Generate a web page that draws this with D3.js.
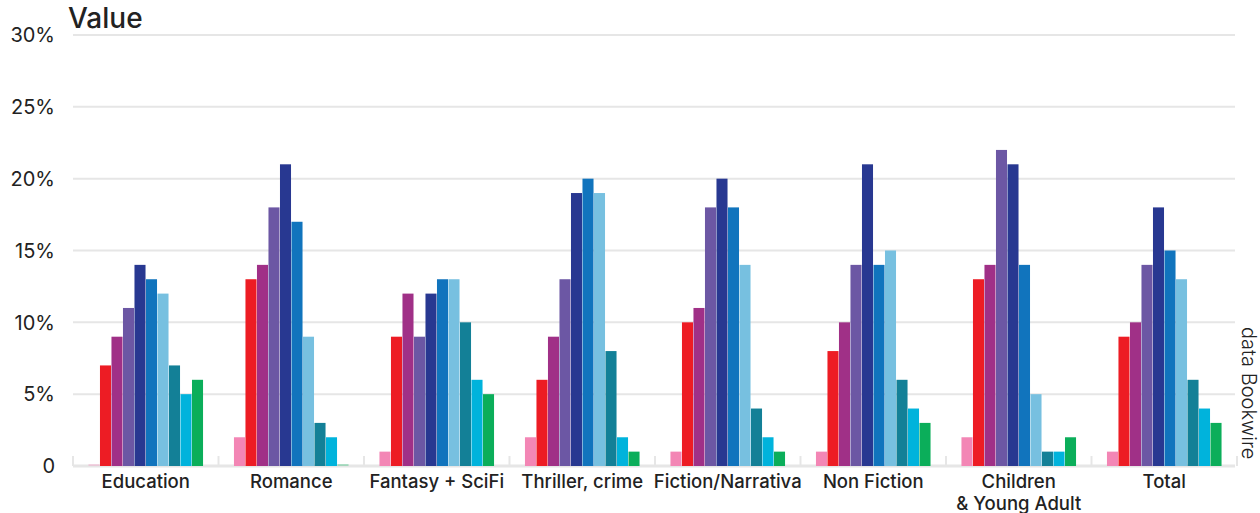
<!DOCTYPE html>
<html>
<head>
<meta charset="utf-8">
<script src="https://cdnjs.cloudflare.com/ajax/libs/d3/7.8.5/d3.min.js"></script>
<style>
  body { margin: 0; background: #fff; }
  text { font-family: Inter, "Noto Sans", sans-serif; fill: #222; }
</style>
</head>
<body>
<script>
// categories along the x axis
var categories = ["Education", "Romance", "Fantasy + SciFi", "Thriller, crime",
  "Fiction/Narrativa", "Non Fiction", "Children\n& Young Adult", "Total"];

// ten series, one value per category (percent)
var seriesKeys = ["s1", "s2", "s3", "s4", "s5", "s6", "s7", "s8", "s9", "s10"];
var seriesColors = ["#f386b5", "#ed1c24", "#a03087", "#6c57a4", "#283891",
  "#1174bd", "#77c0e0", "#138097", "#00b3dc", "#0bae5a"];

var s1  = [0, 2, 1, 2, 1, 1, 2, 1];
var s2  = [7, 13, 9, 6, 10, 8, 13, 9];
var s3  = [9, 14, 12, 9, 11, 10, 14, 10];
var s4  = [11, 18, 9, 13, 18, 14, 22, 14];
var s5  = [14, 21, 12, 19, 20, 21, 21, 18];
var s6  = [13, 17, 13, 20, 18, 14, 14, 15];
var s7  = [12, 9, 13, 19, 14, 15, 5, 13];
var s8  = [7, 3, 10, 8, 4, 6, 1, 6];
var s9  = [5, 2, 6, 2, 2, 4, 1, 4];
var s10 = [6, 0, 5, 1, 1, 3, 2, 3];
var seriesValues = [s1, s2, s3, s4, s5, s6, s7, s8, s9, s10];

var yTicks = [0, 5, 10, 15, 20, 25, 30];

// set the dimensions and margins of the graph
var totalW = 1260, totalH = 513;
var margin = {top: 35, right: 23, bottom: 47, left: 73},
    width = totalW - margin.left - margin.right,
    height = totalH - margin.top - margin.bottom;

var x0 = d3.scaleBand().domain(categories).range([0, width]).paddingInner(0).paddingOuter(0);
var x1 = d3.scaleBand().domain(seriesKeys).range([15, x0.bandwidth() - 15]).padding(0.04);
var y = d3.scaleLinear().domain([0, 30]).range([height, 0]);

var svg = d3.select("body").append("svg")
    .attr("width", totalW)
    .attr("height", totalH)
  .append("g")
    .attr("transform", "translate(" + margin.left + "," + margin.top + ")");

// gridlines
svg.append("g").selectAll("line")
    .data(yTicks)
  .enter().append("line")
    .attr("x1", 0).attr("x2", width - 2)
    .attr("y1", function(d) { return y(d); })
    .attr("y2", function(d) { return y(d); })
    .attr("stroke", "#e6e6e6")
    .attr("stroke-width", function(d) { return d === 0 ? 3 : 2; });

// y labels
svg.append("g").selectAll("text")
    .data(yTicks)
  .enter().append("text")
    .attr("x", -18)
    .attr("y", function(d) { return y(d); })
    .attr("dy", "0.36em")
    .attr("text-anchor", "end")
    .style("font-size", "20px")
    .text(function(d) { return d === 0 ? "0" : d + "%"; });

// band boundary ticks
svg.append("g").selectAll("line")
    .data(d3.range(categories.length + 1))
  .enter().append("line")
    .attr("x1", function(i) { return i * x0.bandwidth(); })
    .attr("x2", function(i) { return i * x0.bandwidth(); })
    .attr("y1", height - 10).attr("y2", height)
    .attr("stroke", "#e6e6e6")
    .attr("stroke-width", 2);

// bars
var groups = svg.append("g").selectAll("g")
    .data(categories)
  .enter().append("g")
    .attr("transform", function(d) { return "translate(" + x0(d) + ",0)"; });

groups.selectAll("rect")
    .data(function(d, ci) {
      return seriesKeys.map(function(k, si) {
        return {key: k, value: seriesValues[si][ci], color: seriesColors[si]};
      });
    })
  .enter().append("rect")
    .attr("x", function(d) { return x1(d.key); })
    .attr("width", x1.bandwidth())
    .attr("y", function(d) { return d.value === 0 ? height - 2 : y(d.value); })
    .attr("height", function(d) { return d.value === 0 ? 2 : height - y(d.value); })
    .attr("fill", function(d) { return d.color; })
    .attr("opacity", function(d) { return d.value === 0 ? 0.3 : 1; });

// category labels
groups.append("text")
    .attr("x", x0.bandwidth() / 2)
    .attr("y", height + 22)
    .attr("text-anchor", "middle")
    .style("font-size", "18.5px")
    .style("font-weight", 500)
    .each(function(d) {
      var lines = d.split("\n");
      var t = d3.select(this);
      lines.forEach(function(l, i) {
        t.append("tspan").attr("x", x0.bandwidth() / 2).attr("dy", i === 0 ? 0 : "1.2em").text(l);
      });
    });

// title
svg.append("text")
    .attr("x", -5)
    .attr("y", -7)
    .style("font-size", "28px")
    .style("font-weight", 500)
    .text("Value");

// source
svg.append("text")
    .attr("transform", "translate(" + (width + 12) + "," + (y(5) - 1) + ") rotate(90)")
    .attr("text-anchor", "middle")
    .attr("dy", "0.35em")
    .style("font-size", "20px")
    .style("font-weight", 300)
    .text("data Bookwire");
</script>
</body>
</html>
